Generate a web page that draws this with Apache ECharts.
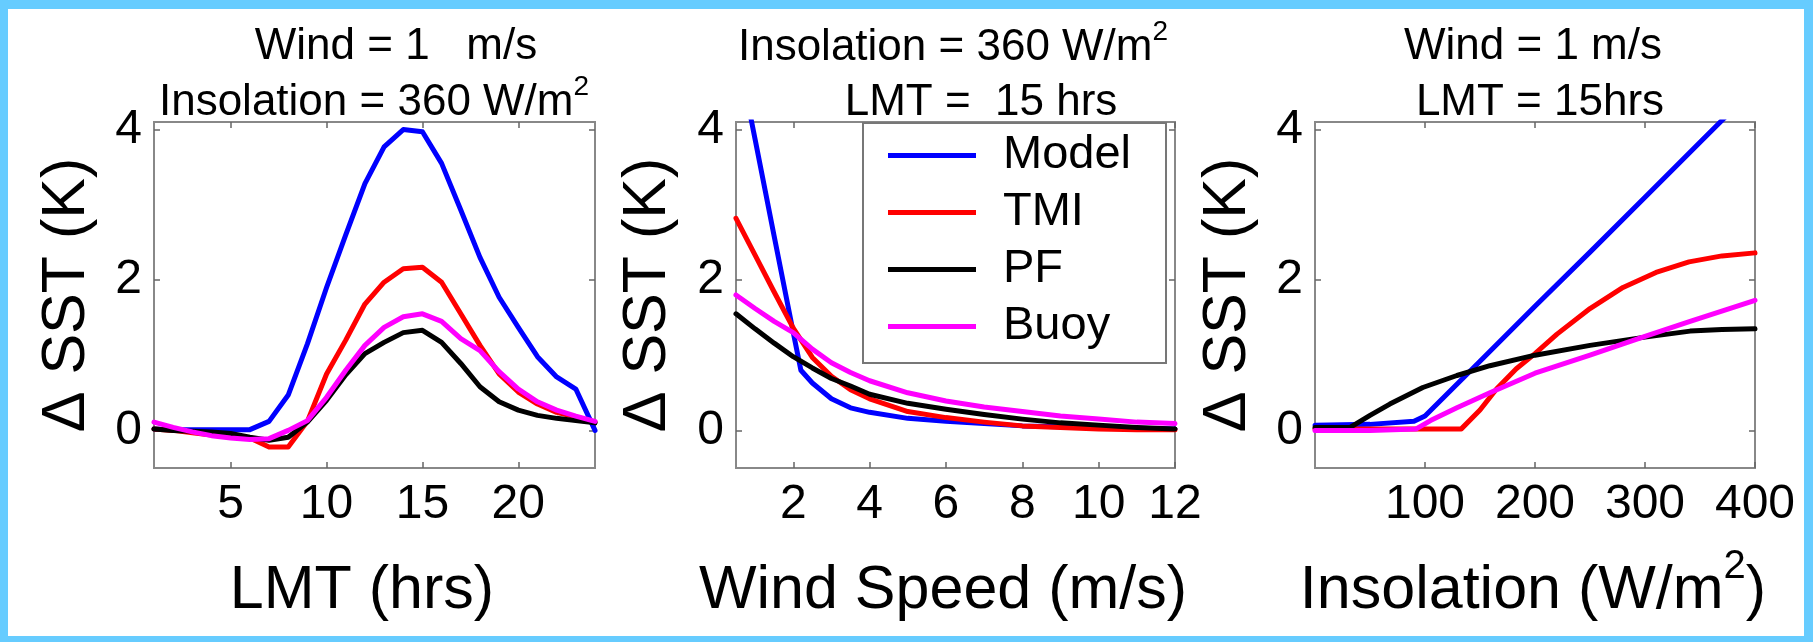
<!DOCTYPE html>
<html>
<head>
<meta charset="utf-8">
<script src="https://cdn.jsdelivr.net/npm/echarts@6/dist/echarts.min.js"></script>
<style>
  html, body { margin: 0; padding: 0; background: #fff; }
  #chart { position: absolute; left: 0; top: 0; width: 1813px; height: 642px; }
  #frame {
    position: absolute; left: 0; top: 0; width: 1813px; height: 642px;
    box-sizing: border-box; border-style: solid; border-color: #66ccff;
    border-width: 9px 9px 6px 8px; pointer-events: none;
  }
</style>
</head>
<body>
<div id="chart"></div>
<div id="frame"></div>
<script>
// 左图：按当地时间（LMT）
const lmtHours = [1, 2, 3, 4, 5, 6, 7, 8, 9, 10, 11, 12, 13, 14, 15, 16, 17, 18, 19, 20, 21, 22, 23, 24]
const lmtModel = [0.02, 0.01, 0.01, 0.01, 0.01, 0.01, 0.12, 0.47, 1.15, 1.9, 2.6, 3.28, 3.77, 4.0, 3.97, 3.55, 2.93, 2.3, 1.77, 1.37, 0.98, 0.71, 0.55, 0.0]
const lmtTmi = [0.02, 0.0, -0.03, -0.06, -0.08, -0.1, -0.22, -0.22, 0.12, 0.75, 1.2, 1.68, 1.97, 2.15, 2.17, 1.97, 1.55, 1.13, 0.75, 0.51, 0.35, 0.24, 0.18, 0.11]
const lmtPf = [0.02, 0.0, -0.01, -0.02, -0.04, -0.09, -0.13, -0.09, 0.11, 0.4, 0.74, 1.02, 1.17, 1.3, 1.33, 1.17, 0.89, 0.58, 0.38, 0.27, 0.2, 0.16, 0.13, 0.1]
const lmtBuoy = [0.11, 0.04, -0.02, -0.07, -0.1, -0.12, -0.11, 0.0, 0.13, 0.44, 0.8, 1.13, 1.37, 1.51, 1.55, 1.45, 1.22, 1.06, 0.78, 0.55, 0.38, 0.27, 0.19, 0.12]

// 中图：按风速
const windModelX = [0.5, 1, 1.5, 2, 2.2, 2.5, 3, 3.5, 4, 5, 6, 7, 8, 9, 10, 11, 12]
const windModel = [5.15, 3.87, 2.58, 1.3, 0.8, 0.63, 0.42, 0.3, 0.24, 0.16, 0.12, 0.09, 0.06, 0.05, 0.04, 0.03, 0.02]
const windX = [0.5, 1, 1.5, 2, 2.5, 3, 3.5, 4, 5, 6, 7, 8, 9, 10, 11, 12]
const windTmi = [2.82, 2.33, 1.84, 1.36, 0.97, 0.72, 0.54, 0.42, 0.25, 0.17, 0.11, 0.06, 0.04, 0.02, 0.01, 0.01]
const windPf = [1.55, 1.35, 1.16, 0.98, 0.83, 0.69, 0.59, 0.48, 0.36, 0.28, 0.21, 0.15, 0.1, 0.07, 0.04, 0.02]
const windBuoy = [1.8, 1.62, 1.45, 1.3, 1.08, 0.9, 0.77, 0.66, 0.5, 0.39, 0.31, 0.25, 0.19, 0.15, 0.11, 0.09]

// 右图：按日照
const insoModelX = [0, 50, 90, 100, 150, 200, 250, 300, 350, 400]
const insoModel = [0.07, 0.08, 0.12, 0.19, 0.92, 1.65, 2.37, 3.1, 3.83, 4.56]
const insoTmiX = [0, 50, 100, 133, 150, 165, 183, 200, 220, 250, 280, 310, 340, 370, 400]
const insoTmi = [0.02, 0.02, 0.02, 0.02, 0.27, 0.55, 0.82, 1.02, 1.28, 1.62, 1.9, 2.1, 2.24, 2.32, 2.36]
const insoPfX = [0, 32, 50, 68, 98, 129, 159, 200, 250, 300, 341, 370, 400]
const insoPf = [0.04, 0.04, 0.2, 0.35, 0.57, 0.73, 0.86, 1.0, 1.13, 1.24, 1.32, 1.34, 1.35]
const insoBuoyX = [0, 50, 92, 105, 129, 159, 200, 250, 300, 341, 400]
const insoBuoy = [0.0, 0.0, 0.02, 0.13, 0.3, 0.5, 0.76, 1.0, 1.25, 1.45, 1.73]

// 坐标轴刻度
const xRanges = [[1, 24], [0.5, 12], [0, 400]]
const xTicks = [[5, 10, 15, 20], [2, 4, 6, 8, 10, 12], [100, 200, 300, 400]]
const yRange = [-0.5, 4.1]
const yTicks = [0, 2, 4]

const names = ['Model', 'TMI', 'PF', 'Buoy']
const colors = ['#0000ff', '#ff0000', '#000000', '#ff00ff']

const FONT = 'Liberation Sans, Arial, sans-serif'

const panels = [
  { xs: [lmtHours, lmtHours, lmtHours, lmtHours], ys: [lmtModel, lmtTmi, lmtPf, lmtBuoy] },
  { xs: [windModelX, windX, windX, windX], ys: [windModel, windTmi, windPf, windBuoy] },
  { xs: [insoModelX, insoTmiX, insoPfX, insoBuoyX], ys: [insoModel, insoTmi, insoPf, insoBuoy] }
]

function pairs(xs, ys) {
  return xs.map((x, i) => [x, ys[i]])
}

let mychart = echarts.init(document.querySelector('#chart'))

let grids = [
  { left: 154, top: 122, width: 441, height: 346 },
  { left: 736, top: 122, width: 439, height: 346 },
  { left: 1315, top: 122, width: 440, height: 346 }
].map(g => Object.assign(g, { show: true, borderColor: '#888', borderWidth: 2, backgroundColor: '#fff' }))

let tickStyle = { color: '#666', width: 1.5 }
let xAxis = []
let yAxis = []
// 下、左两边带数字；上、右两边只画刻度（matlab 风格的方框）
;['bottom', 'top'].forEach(function(pos) {
  xRanges.forEach(function(r, i) {
    xAxis.push({
      type: 'value', gridIndex: i, position: pos, min: r[0], max: r[1],
      axisLine: { show: false, onZero: false },
      axisTick: { show: true, inside: true, length: 6, customValues: xTicks[i], lineStyle: tickStyle },
      axisLabel: {
        show: pos === 'bottom', customValues: xTicks[i], margin: 13,
        fontSize: 48, color: '#000', fontFamily: FONT
      },
      splitLine: { show: false }
    })
  })
})
;['left', 'right'].forEach(function(pos) {
  xRanges.forEach(function(r, i) {
    yAxis.push({
      type: 'value', gridIndex: i, position: pos, min: yRange[0], max: yRange[1],
      axisLine: { show: false, onZero: false },
      axisTick: { show: true, inside: true, length: 6, customValues: yTicks, lineStyle: tickStyle },
      axisLabel: {
        show: pos === 'left', customValues: yTicks, margin: 12,
        fontSize: 48, color: '#000', fontFamily: FONT
      },
      splitLine: { show: false }
    })
  })
})

let series = []
panels.forEach(function(p, i) {
  names.forEach(function(name, k) {
    series.push({
      name: name,
      type: 'line',
      xAxisIndex: i,
      yAxisIndex: i,
      data: pairs(p.xs[k], p.ys[k]),
      symbol: 'none',
      clip: true,
      itemStyle: { color: colors[k] },
      lineStyle: { color: colors[k], width: 5, join: 'round', cap: 'round' }
    })
  })
})

// 文字标注
let measureCtx = document.createElement('canvas').getContext('2d')
function textWidth(text, size) {
  measureCtx.font = size + 'px ' + FONT
  return measureCtx.measureText(text).width
}
function textEl(text, x, y, size, align, rot) {
  return {
    type: 'text', x: x, y: y, rotation: rot || 0, z: 10,
    style: {
      text: text, fontSize: size, fontFamily: FONT, fill: '#000',
      align: align, verticalAlign: 'middle',
      textAlign: align, textVerticalAlign: 'middle'
    }
  }
}
function label(text, x, y, size, rot) {
  return [textEl(text, x, y, size, 'center', rot)]
}
// parts: [文字, 字号, 上移]，整体居中于 x
function supLabel(parts, x, y) {
  let widths = parts.map(p => textWidth(p[0], p[1]))
  let total = widths.reduce((a, b) => a + b, 0)
  let cur = x - total / 2
  return parts.map(function(p, i) {
    let el = textEl(p[0], cur, y - p[2], p[1], 'left')
    cur += widths[i]
    return el
  })
}

let graphic = [].concat(
  label('Wind = 1   m/s', 396, 47, 44),
  supLabel([['Insolation = 360 W/m', 44, 0], ['2', 28, 16]], 374, 103),
  label('LMT (hrs)', 362, 591, 61),
  label('Δ SST (K)', 67, 295, 61, Math.PI / 2),

  supLabel([['Insolation = 360 W/m', 44, 0], ['2', 28, 16]], 953, 48),
  label('LMT =  15 hrs', 981, 103, 44),
  label('Wind Speed (m/s)', 943, 591, 61),
  label('Δ SST (K)', 648, 295, 61, Math.PI / 2),

  label('Wind = 1 m/s', 1533, 47, 44),
  label('LMT = 15hrs', 1540, 103, 44),
  supLabel([['Insolation (W/m', 61, 0], ['2', 40, 24], [')', 61, 0]], 1533, 591),
  label('Δ SST (K)', 1228, 295, 61, Math.PI / 2)
)

let option = {
  animation: false,
  color: colors,
  grid: grids,
  xAxis: xAxis,
  yAxis: yAxis,
  legend: {
    orient: 'vertical',
    left: 863,
    top: 123,
    padding: [4, 35, 8, 25],
    backgroundColor: '#fff',
    borderColor: '#777',
    borderWidth: 2,
    icon: 'rect',
    itemWidth: 88,
    itemHeight: 5,
    itemGap: 0,
    textStyle: { fontSize: 47, color: '#000', fontFamily: FONT, lineHeight: 57, padding: [0, 0, 0, 22] },
    data: names
  },
  graphic: graphic,
  series: series
}

mychart.setOption(option)
</script>
</body>
</html>
